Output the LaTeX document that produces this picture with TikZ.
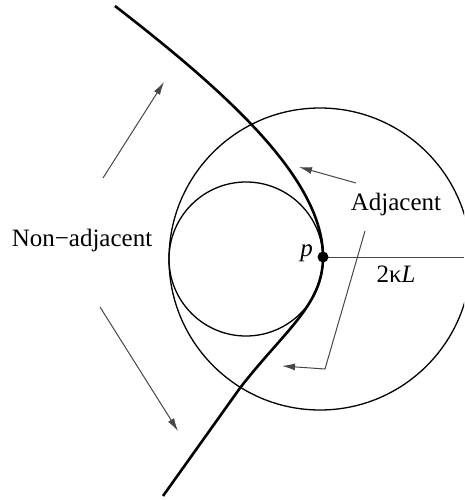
\documentclass[tikz,border=0pt]{standalone}
\usepackage{fontspec}
\setmainfont{Liberation Serif}
\usetikzlibrary{arrows.meta,calc}
\definecolor{pointer}{RGB}{70,70,70}

\begin{document}
\begin{tikzpicture}[x=1pt,y=-1pt,
    lbl/.style={font=\fontsize{25}{30}\selectfont,inner sep=0pt},
    ptr/.style={pointer,line width=1pt,-{Latex[length=13pt,width=7pt]}}]
    \useasboundingbox (0,0) rectangle (464,500);
    \clip (0,0) rectangle (464,500);
    % circles
    \draw[line width=1.3pt] (320,259) circle (151);
    \draw[line width=1.3pt] (246,259) circle (77);
    % the curve
    \coordinate (p) at (323,257);
    \draw[line width=2.6pt] (115,6) .. controls (230,95) and (323,180) .. (p)
      .. controls (323,305) and (285,330) .. (240,388) -- (163,496);
    \coordinate (rim) at (464,257);
    \draw[pointer,line width=1pt] (p) -- (rim);
    \fill (p) circle (5.5);
    % labels
    \node[lbl,anchor=east] (plbl) at (313,253) {\textit{p}};
    \node[lbl] (kl) at (396,274) {2κ\textit{L}};
    \node[lbl] (adj) at (396,204) {Adjacent};
    \node[lbl] (nonadj) at (82,240) {Non−adjacent};
    % pointers
    \coordinate (na1) at (103,178);
    \coordinate (na1tip) at (164,82);
    \coordinate (na2) at (100,307);
    \coordinate (na2tip) at (178,431);
    \draw[ptr] (na1) -- (na1tip);
    \draw[ptr] (na2) -- (na2tip);
    \coordinate (a1) at (356,183);
    \coordinate (a1tip) at (299,167);
    \coordinate (a2) at (365,231);
    \coordinate (a2knee) at (325,369);
    \coordinate (a2tip) at (282,366);
    \draw[ptr] (a1) -- (a1tip);
    \draw[ptr] (a2) -- (a2knee) -- (a2tip);
  \end{tikzpicture}
\end{document}
